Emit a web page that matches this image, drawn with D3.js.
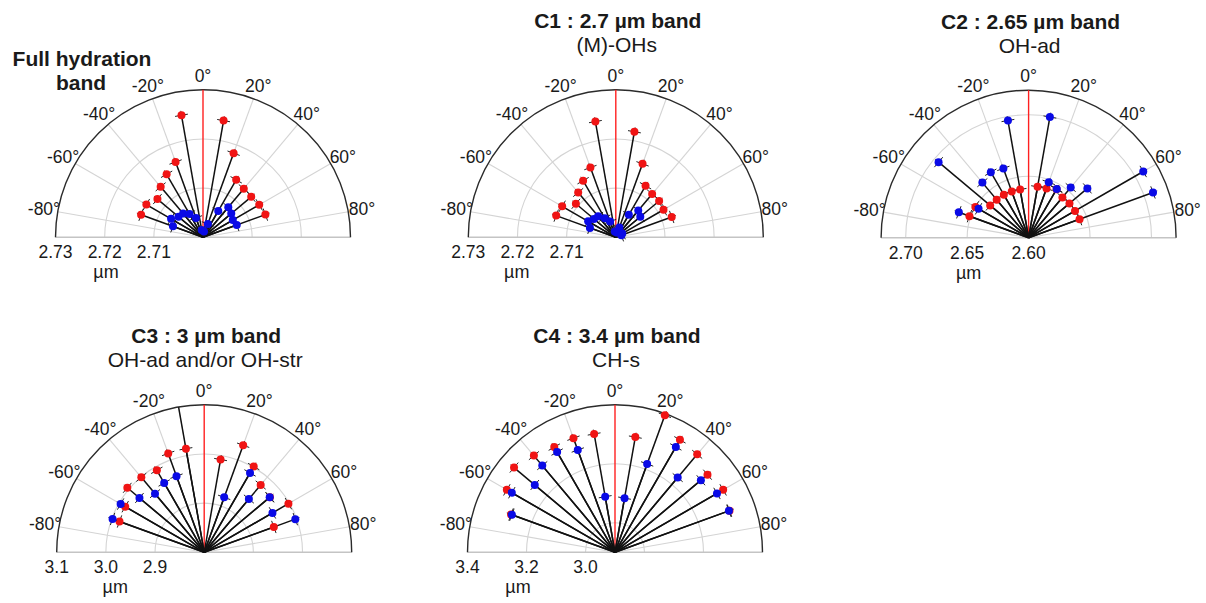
<!DOCTYPE html>
<html>
<head>
<meta charset="utf-8">
<script src="https://cdn.jsdelivr.net/npm/d3@7"></script>
<style>
  body { margin: 0; background: #fff; }
  svg text { font-family: "Liberation Sans", Arial, sans-serif; fill: #1a1a1a; }
</style>
</head>
<body>
<div id="chart"></div>
<script>
// spoke angles (deg, 0 = up, negative = left)
let angles = [-70, -60, -50, -40, -30, -20, -10, 10, 20, 30, 40, 50, 60, 70]
let thetaTicks = [-80, -60, -40, -20, 0, 20, 40, 60, 80]

// band positions (µm), one value per angle
let fullRed = [2.7134, 2.7133, 2.7121, 2.7134, 2.7148, 2.7163, 2.7252, 2.7241, 2.7182, 2.7135, 2.7129, 2.7128, 2.7132, 2.7135]
let fullBlue = [2.7065, 2.7075, 2.7065, 2.7063, 2.7055, 2.7042, 2.7015, 2.7012, 2.7029, 2.7062, 2.7080, 2.7075, 2.7070, 2.7073]
let c1Red = [2.7129, 2.7126, 2.7106, 2.7119, 2.7133, 2.7151, 2.7239, 2.7218, 2.7159, 2.7121, 2.7115, 2.7115, 2.7112, 2.7121]
let c1Blue = [2.7056, 2.7065, 2.7058, 2.7056, 2.7045, 2.7034, 2.7012, 2.7010, 2.7021, 2.7053, 2.7071, 2.7065, 2.7015, 2.7012]
let c2Red = [2.6512, 2.6500, 2.6408, 2.6404, 2.6403, 2.6401, 2.6398, 2.6420, 2.6427, 2.6455, 2.6428, 2.6434, 2.6436, 2.6441]
let c2Blue = [2.6604, 2.6470, 2.6956, 2.6585, 2.6615, 2.6600, 2.6968, 2.6997, 2.6479, 2.6458, 2.6533, 2.6624, 2.7077, 2.7077]
let c3Red = [2.9833, 2.9855, 3.0041, 2.9990, 2.9926, 3.0140, 3.0139, 2.9916, 3.0317, 3.0014, 2.9787, 2.9745, 2.9978, 2.9507]
let c3Blue = [2.9983, 2.9963, 2.9719, 2.9557, 2.9628, 2.9648, 3.1600, null, 2.9189, 2.9864, 2.9414, 2.9739, 2.9603, 2.9972]
let c4Red = [3.2750, 3.3233, 3.3468, 3.3278, 3.3117, 3.3117, 3.3073, 3.2965, 3.3942, 3.3403, 3.3335, 3.3093, 3.3233, 3.3130]
let c4Blue = [3.2720, 3.3040, 3.2550, 3.2836, 3.2924, 3.2690, 3.0914, 3.0864, 3.2187, 3.3124, 3.2306, 3.2800, 3.2992, 3.3110]

// radial axis limits and tick labels
let fullDomain = [2.70, 2.73]
let fullTicks = [2.71, 2.72, 2.73]
let c2Domain = [2.60, 2.72]
let c2Ticks = [2.60, 2.65, 2.70]
let c3Domain = [2.8, 3.1]
let c3Ticks = [2.9, 3.0, 3.1]
let c4Domain = [2.9, 3.4]
let c4Ticks = [3.0, 3.2, 3.4]

let titles = ['', 'C1 : 2.7 µm band', 'C2 : 2.65 µm band', 'C3 : 3 µm band', 'C4 : 3.4 µm band']
let subtitles = ['', '(M)-OHs', 'OH-ad', 'OH-ad and/or OH-str', 'CH-s']

let width = 1206
let height = 603
let R = 147.5
let redColor = '#f01414'
let blueColor = '#0a0ae6'

let panels = [
  { cx: 203, cy: 237.3, dom: fullDomain, ticks: fullTicks, dec: 2, red: fullRed, blue: fullBlue, title: titles[0], sub: subtitles[0], unitDx: -97 },
  { cx: 615.8, cy: 237.3, dom: fullDomain, ticks: fullTicks, dec: 2, red: c1Red, blue: c1Blue, title: titles[1], sub: subtitles[1], unitDx: -99 },
  { cx: 1028.6, cy: 237.7, dom: c2Domain, ticks: c2Ticks, dec: 2, red: c2Red, blue: c2Blue, title: titles[2], sub: subtitles[2], unitDx: -60 },
  { cx: 204.2, cy: 552.3, dom: c3Domain, ticks: c3Ticks, dec: 1, red: c3Red, blue: c3Blue, title: titles[3], sub: subtitles[3], unitDx: -89 },
  { cx: 615, cy: 552.3, dom: c4Domain, ticks: c4Ticks, dec: 1, red: c4Red, blue: c4Blue, title: titles[4], sub: subtitles[4], unitDx: -97 }
]

let svg = d3.select('#chart').append('svg').attr('width', width).attr('height', height)

// angle (deg) -> radians, 0 at top, clockwise
let theta = d3.scaleLinear().domain([-90, 90]).range([-Math.PI / 2, Math.PI / 2])

function drawPanel (p) {
  let g = svg.append('g').attr('transform', 'translate(' + p.cx + ',' + p.cy + ')')
  let r = d3.scaleLinear().domain(p.dom).range([0, R]).clamp(true)
  let xy = (a, rr) => [rr * Math.sin(theta(a)), -rr * Math.cos(theta(a))]

  // half circle outline helper
  let halfArc = function (rr) {
    let path = d3.path()
    path.arc(0, 0, rr, -Math.PI, 0)
    return path.toString()
  }

  // grid circles
  g.selectAll('.gridCircle').data(p.ticks.filter(t => r(t) > 0.5 && r(t) < R - 0.5)).enter()
    .append('path').attr('d', t => halfArc(r(t)))
    .attr('fill', 'none').attr('stroke', '#d4d4d4').attr('stroke-width', 1.1)

  // radial grid lines
  g.selectAll('.gridSpoke').data(thetaTicks.filter(t => t !== 0)).enter()
    .append('line')
    .attr('x1', 0).attr('y1', 0)
    .attr('x2', t => xy(t, R)[0]).attr('y2', t => xy(t, R)[1])
    .attr('stroke', '#d4d4d4').attr('stroke-width', 1.1)

  // baseline + outer arc
  g.append('line').attr('x1', -R).attr('x2', R).attr('y1', 0).attr('y2', 0)
    .attr('stroke', '#c4c4c4').attr('stroke-width', 1.6)
  g.append('path').attr('d', halfArc(R)).attr('fill', 'none')
    .attr('stroke', '#2b2b2b').attr('stroke-width', 1.4)

  // red 0° reference line
  g.append('line').attr('x1', 0).attr('y1', 0).attr('x2', 0).attr('y2', -R)
    .attr('stroke', '#ff2020').attr('stroke-width', 1.4)

  // theta labels
  g.selectAll('.thetaLabel').data(thetaTicks).enter()
    .append('text')
    .attr('x', t => xy(t, R + 14)[0])
    .attr('y', t => xy(t, R + 14)[1] + 6)
    .attr('text-anchor', 'middle')
    .attr('font-size', 17.5)
    .text(t => t + '°')

  // radial tick labels on the left side
  g.selectAll('.rLabel').data(p.ticks).enter()
    .append('text')
    .attr('x', t => -r(t))
    .attr('y', 21)
    .attr('text-anchor', 'middle')
    .attr('font-size', 17.5)
    .text(t => t.toFixed(p.dec))
  g.append('text').attr('x', p.unitDx).attr('y', 41).attr('text-anchor', 'middle')
    .attr('font-size', 18).text('µm')

  // series: red first, blue drawn on top
  let series = [{ vals: p.red, color: redColor }, { vals: p.blue, color: blueColor }]
  series.forEach(s => {
    let pts = angles.map((a, i) => ({ a: a, v: s.vals[i] })).filter(d => d.v !== null)
    g.append('g').selectAll('line').data(pts).enter()
      .append('line')
      .attr('x1', 0).attr('y1', 0)
      .attr('x2', d => xy(d.a, r(d.v))[0]).attr('y2', d => xy(d.a, r(d.v))[1])
      .attr('stroke', '#111').attr('stroke-width', 1.5)
  })
  series.forEach(s => {
    let pts = angles.map((a, i) => ({ a: a, v: s.vals[i] }))
      .filter(d => d.v !== null && d.v <= p.dom[1])
    let mg = g.append('g')
    // small error whiskers (tangential + radial)
    pts.forEach(d => {
      let rr = r(d.v)
      let t = theta(d.a)
      let c = xy(d.a, rr)
      let tx = Math.cos(t), ty = Math.sin(t)
      mg.append('line')
        .attr('x1', c[0] - 6.5 * tx).attr('y1', c[1] - 6.5 * ty)
        .attr('x2', c[0] + 6.5 * tx).attr('y2', c[1] + 6.5 * ty)
        .attr('stroke', '#222').attr('stroke-width', 1)
      let e1 = xy(d.a, rr - 4.5), e2 = xy(d.a, rr + 4.5)
      mg.append('line')
        .attr('x1', e1[0]).attr('y1', e1[1]).attr('x2', e2[0]).attr('y2', e2[1])
        .attr('stroke', '#222').attr('stroke-width', 0.8)
    })
    mg.selectAll('circle').data(pts).enter()
      .append('circle')
      .attr('cx', d => xy(d.a, r(d.v))[0])
      .attr('cy', d => xy(d.a, r(d.v))[1])
      .attr('r', 4)
      .attr('fill', s.color)
  })

  // titles
  if (p.title) {
    g.append('text').attr('x', 2).attr('y', -209).attr('text-anchor', 'middle')
      .attr('font-size', 21).attr('font-weight', 'bold').text(p.title)
    g.append('text').attr('x', 1).attr('y', -185).attr('text-anchor', 'middle')
      .attr('font-size', 21).text(p.sub)
  }
}

panels.forEach(drawPanel)

// first panel title sits on two lines to the left
svg.append('text').attr('x', 82).attr('y', 66).attr('text-anchor', 'middle')
  .attr('font-size', 21).attr('font-weight', 'bold').text('Full hydration')
svg.append('text').attr('x', 81).attr('y', 90).attr('text-anchor', 'middle')
  .attr('font-size', 21).attr('font-weight', 'bold').text('band')
</script>
</body>
</html>
